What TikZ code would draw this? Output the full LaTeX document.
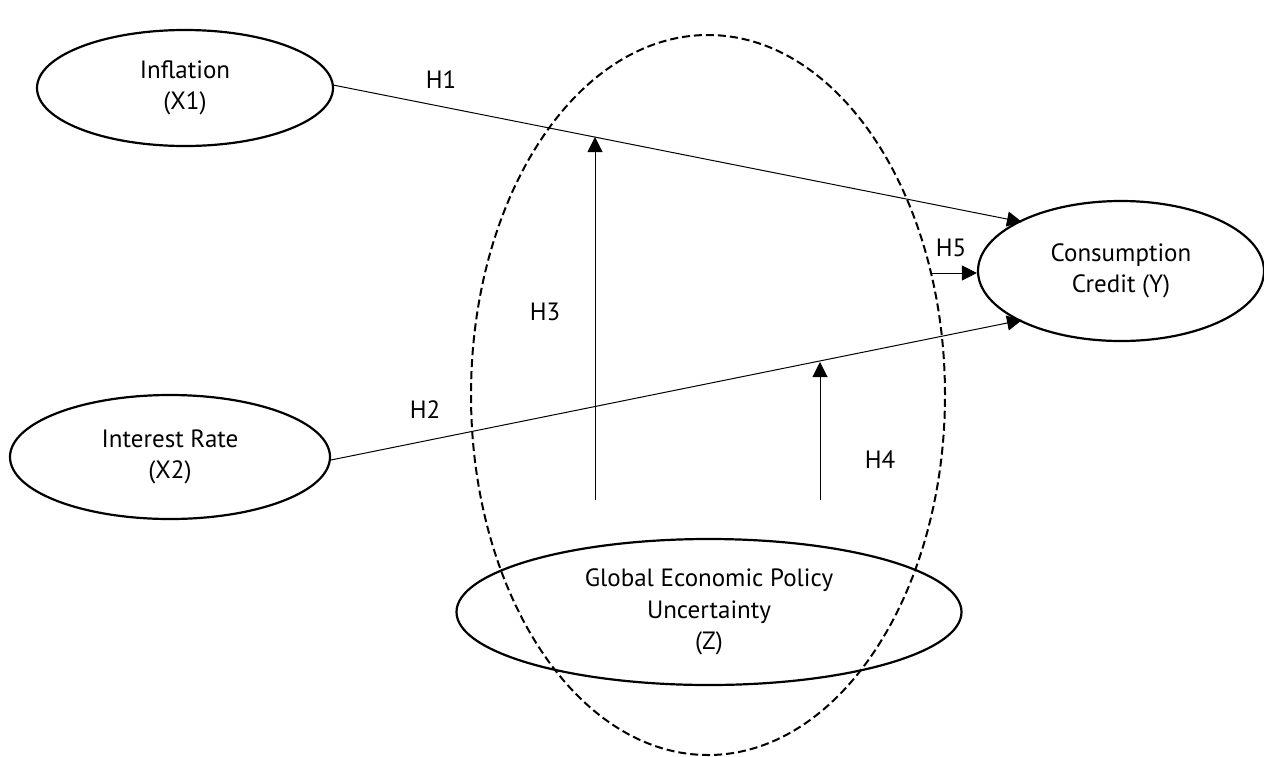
\documentclass[tikz,border=0pt]{standalone}
\usepackage{fontspec}
\setmainfont{PT Sans}
\usetikzlibrary{arrows.meta,shapes.geometric}
\begin{document}
\begin{tikzpicture}[x=1pt,y=-1pt,
  oval/.style={draw,ellipse,line width=2.2pt,inner sep=0pt,align=center,font=\fontsize{25}{31.5}\selectfont},
  link/.style={line width=1pt,-{Triangle[length=15pt,width=15pt]}},
  lbl/.style={font=\fontsize{25}{31.5}\selectfont,inner sep=0pt}]
\useasboundingbox (0,0) rectangle (1264,756);
\node[oval,minimum width=296pt,minimum height=116pt] (inf) at (185,88) {Inflation\\(X1)};
\node[oval,minimum width=320pt,minimum height=124pt] (ir) at (170,457) {Interest Rate\\(X2)};
\node[oval,minimum width=286pt,minimum height=140pt] (cc) at (1121,271) {Consumption\\Credit (Y)};
\node[oval,minimum width=505pt,minimum height=146pt] (gepu) at (709,612) {Global Economic Policy\\Uncertainty\\(Z)};
\node[draw,ellipse,dash pattern=on 8pt off 4pt,line width=2pt,minimum width=474pt,minimum height=720pt] (mod) at (708,395) {};
\coordinate (h1s) at (333,85);
\coordinate (h1e) at (1022,222);
\coordinate (h2s) at (331,460);
\coordinate (h2e) at (1022,320);
\draw[link] (h1s) -- (h1e);
\draw[link] (h2s) -- (h2e);
\coordinate (h3s) at (595,500);
\coordinate (h3e) at (595,137);
\coordinate (h4s) at (820,500);
\coordinate (h4e) at (820,362);
\coordinate (h5s) at (930,273);
\draw[link] (h3s) -- (h3e);
\draw[link] (h4s) -- (h4e);
\draw[link] (h5s) -- (h5s -| cc.west);
\node[lbl] (l1) at (441,80) {H1};
\node[lbl] (l2) at (425,410) {H2};
\node[lbl] (l3) at (545,312) {H3};
\node[lbl] (l4) at (880,460) {H4};
\node[lbl] (l5) at (951,248) {H5};
\end{tikzpicture}
\end{document}
